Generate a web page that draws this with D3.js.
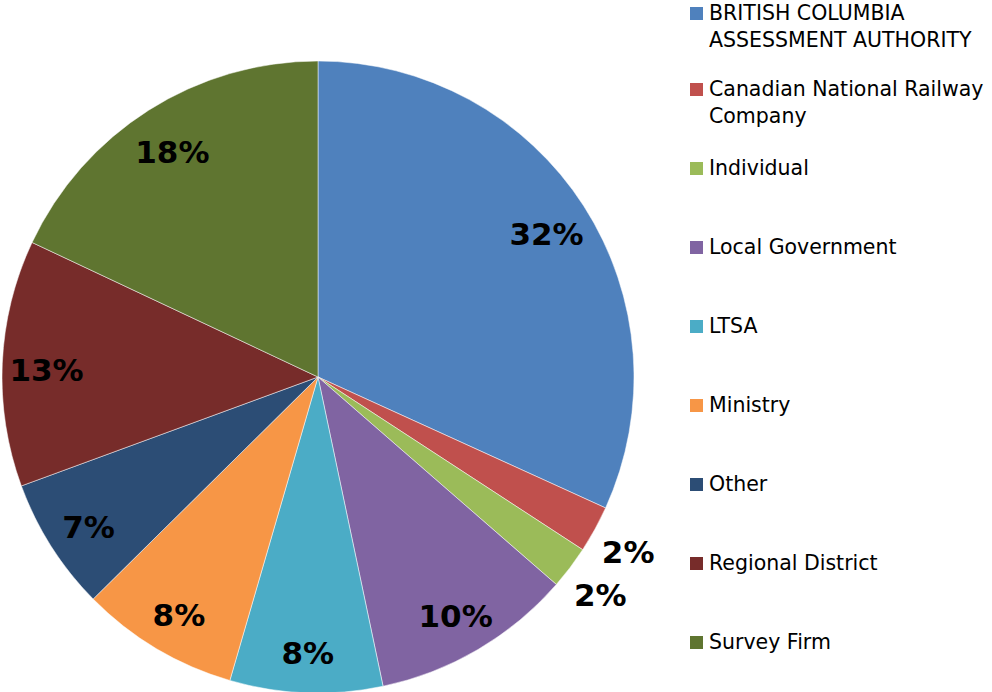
<!DOCTYPE html>
<html>
<head>
<meta charset="utf-8">
<script src="https://cdn.jsdelivr.net/npm/d3@7"></script>
<style>
  html, body { margin: 0; padding: 0; background: #fff; }
</style>
</head>
<body>
<div id="chart"></div>
<script>
// Chart size
const width = 992;
const height = 692;

// Data (share of requests, %)
const categories = ['BRITISH COLUMBIA ASSESSMENT AUTHORITY', 'Canadian National Railway Company', 'Individual',
  'Local Government', 'LTSA', 'Ministry', 'Other', 'Regional District', 'Survey Firm'];
const legendLines = [['BRITISH COLUMBIA', 'ASSESSMENT AUTHORITY'], ['Canadian National Railway', 'Company'], ['Individual'],
  ['Local Government'], ['LTSA'], ['Ministry'], ['Other'], ['Regional District'], ['Survey Firm']];
const values = [31.8, 2.4, 2.2, 10.3, 7.8, 8.1, 6.8, 12.6, 18.0];
const colors = ['#4F81BD', '#C0504D', '#9BBB59', '#8064A2', '#4BACC6', '#F79646', '#2C4D75', '#772C2A', '#5F7530'];

const cx = 318, cy = 377, radius = 316;

const svg = d3.select('#chart').append('svg')
    .attr('width', width)
    .attr('height', height);

const data = categories.map((c, i) => ({ name: c, value: values[i], color: colors[i] }));

// Pie starts at 12 o'clock and runs clockwise, keep input order
const pie = d3.pie().sort(null).value(d => d.value);
const arcs = pie(data);

const arc = d3.arc().innerRadius(0).outerRadius(radius);
const g = svg.append('g').attr('transform', `translate(${cx},${cy})`);

g.selectAll('path.slice')
    .data(arcs)
    .enter().append('path')
    .attr('class', 'slice')
    .attr('d', arc)
    .attr('fill', d => d.data.color)
    .attr('stroke', '#fff')
    .attr('stroke-width', 0.5);

// Labels: inside for big slices, just outside for the tiny ones
const labelArc = d3.arc().innerRadius(radius * 0.86).outerRadius(radius * 0.86);
const outerArc = d3.arc().innerRadius(radius * 1.12).outerRadius(radius * 1.12);

g.selectAll('text.pct')
    .data(arcs)
    .enter().append('text')
    .attr('class', 'pct')
    .attr('transform', d => `translate(${(d.data.value < 3 ? outerArc : labelArc).centroid(d)})`)
    .attr('text-anchor', 'middle')
    .attr('dy', '0.5em')
    .style('font-family', '"DejaVu Sans", Verdana, sans-serif')
    .style('font-weight', 'bold')
    .style('font-size', '31px')
    .attr('fill', '#000')
    .text(d => Math.round(d.data.value) + '%');

// Legend
const legend = svg.append('g').attr('transform', 'translate(690,0)');
const item = legend.selectAll('g.item')
    .data(data)
    .enter().append('g')
    .attr('class', 'item')
    .attr('transform', (d, i) => `translate(0,${(i === 0 ? 13 : 10) + i * 79})`);

item.append('rect')
    .attr('x', 0)
    .attr('y', -6)
    .attr('width', 13)
    .attr('height', 13)
    .attr('fill', d => d.color);

item.append('text')
    .attr('x', 19)
    .style('font-family', '"DejaVu Sans", Verdana, sans-serif')
    .style('font-size', '20.5px')
    .attr('fill', '#000')
    .selectAll('tspan')
    .data((d, i) => legendLines[i])
    .enter().append('tspan')
    .attr('x', 19)
    .attr('dy', (d, j) => j === 0 ? '0.36em' : '1.32em')
    .text(d => d);
</script>
</body>
</html>
